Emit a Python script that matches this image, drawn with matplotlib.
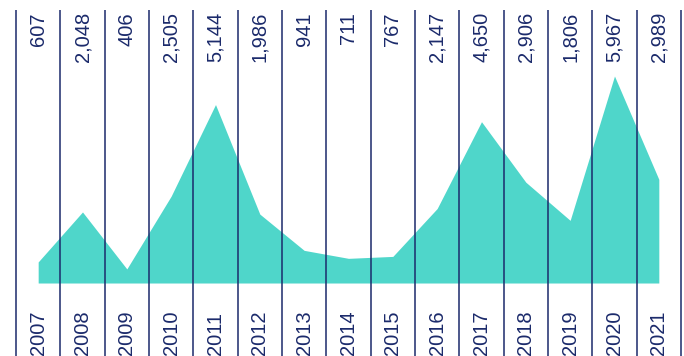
import matplotlib
matplotlib.use("Agg")
import matplotlib.pyplot as plt
import matplotlib.transforms as mtransforms
import numpy as np

years = ["2007", "2008", "2009", "2010", "2011", "2012", "2013", "2014",
         "2015", "2016", "2017", "2018", "2019", "2020", "2021"]
values = [607, 2048, 406, 2505, 5144, 1986, 941, 711,
          767, 2147, 4650, 2906, 1806, 5967, 2989]

navy = "#1b2a6b"
teal = "#4fd6ca"

plt.rcParams['font.family'] = ['Liberation Sans', 'DejaVu Sans']

fig = plt.figure(figsize=(6.84, 3.56), dpi=100)
ax = fig.add_axes([0, 0, 1, 1])

x = np.arange(len(years))
ax.fill_between(x, 0, values, color=teal, linewidth=0, zorder=1)

# dividers between years
edges = np.arange(len(years) + 1) - 0.5
ax.vlines(edges, -2104, 7870, color=navy, linewidth=1.1, zorder=2)

trans = mtransforms.blended_transform_factory(ax.transData, ax.transAxes)
for xi, v, yr in zip(x, values, years):
    ax.text(xi, 0.966, f"{v:,}", rotation=90, ha='center', va='top',
            fontsize=14.5, color=navy, transform=trans)
    ax.text(xi, 0.004, yr, rotation=90, ha='center', va='bottom',
            fontsize=14.5, color=navy, transform=trans)

ax.set_xlim(-0.861, 14.568)
ax.set_ylim(-2104, 8158)
ax.axis('off')

fig.savefig("out.png", dpi=100)
